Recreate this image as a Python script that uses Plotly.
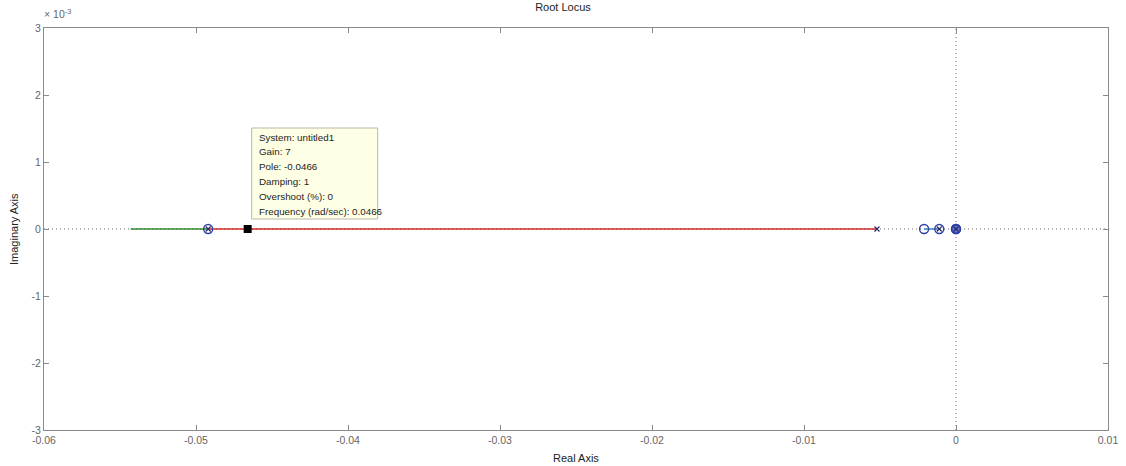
import plotly.graph_objects as go

# Root locus branches (real axis), imaginary parts in units of 1e-3
green_branch_x = [-0.0543, -0.0492]
red_branch_x = [-0.0492, -0.0052]
blue_branch_x = [-0.0021, -0.0011]

# Open-loop zeros and poles
zeros_x = [-0.0492, -0.0021, -0.0011, 0.0]
poles_x = [-0.0492, -0.0052, -0.0011, 0.0]

# Selected closed-loop pole (data tip)
tip_pole = -0.0466
tip_gain = 7
tip_damping = 1
tip_overshoot = 0

x_ticks = [-0.06, -0.05, -0.04, -0.03, -0.02, -0.01, 0.0, 0.01]
x_tick_text = ["-0.06", "-0.05", "-0.04", "-0.03", "-0.02", "-0.01", "0", "0.01"]
y_ticks = [-3, -2, -1, 0, 1, 2, 3]
y_tick_text = ["-3", "-2", "-1", "0", "1", "2", "3"]

X_RANGE = [-0.06, 0.01]
Y_RANGE = [-3, 3]
FONT = "Liberation Sans, Arial, sans-serif"

fig = go.Figure()

# dotted reference axes through the origin
dotted = dict(color="#666666", width=1, dash="1px,3px")
fig.add_trace(go.Scatter(x=X_RANGE, y=[0, 0], mode="lines", line=dotted,
                         hoverinfo="skip", showlegend=False))
fig.add_trace(go.Scatter(x=[0, 0], y=Y_RANGE, mode="lines", line=dotted,
                         hoverinfo="skip", showlegend=False))

# branches
fig.add_trace(go.Scatter(x=green_branch_x, y=[0, 0], mode="lines",
                         line=dict(color="#2e8b2e", width=1.5), showlegend=False))
fig.add_trace(go.Scatter(x=red_branch_x, y=[0, 0], mode="lines",
                         line=dict(color="#d02a2a", width=1.5), showlegend=False))
fig.add_trace(go.Scatter(x=blue_branch_x, y=[0, 0], mode="lines",
                         line=dict(color="#3a8fc0", width=1.6), showlegend=False))

# cluster of poles/zeros at the origin (filled)
fig.add_trace(go.Scatter(x=[0.0], y=[0], mode="markers",
                         marker=dict(symbol="circle", size=9, color="rgba(50,70,190,0.75)",
                                     line=dict(color="#1a2a99", width=1.3)),
                         showlegend=False))
# zeros
fig.add_trace(go.Scatter(x=zeros_x, y=[0] * len(zeros_x), mode="markers",
                         marker=dict(symbol="circle-open", size=9, color="#2c40a8",
                                     line=dict(width=1.4)),
                         showlegend=False))
# poles
fig.add_trace(go.Scatter(x=poles_x, y=[0] * len(poles_x), mode="markers",
                         marker=dict(symbol="x-thin-open", size=5, color="#2a2a60",
                                     line=dict(width=1.2)),
                         showlegend=False))

# data tip marker
fig.add_trace(go.Scatter(x=[tip_pole], y=[0], mode="markers",
                         marker=dict(symbol="square", size=8, color="black"),
                         showlegend=False))

# data tip box, anchored to the selected pole
fig.add_shape(type="rect", xref="x", yref="y", xsizemode="pixel", ysizemode="pixel",
              xanchor=tip_pole, yanchor=0, x0=4, x1=130, y0=10, y1=101,
              fillcolor="#ffffe6", line=dict(color="#b8b8a8", width=1), layer="above")

tip_lines = [
    "System: untitled1",
    f"Gain: {tip_gain}",
    f"Pole: {tip_pole}",
    f"Damping: {tip_damping}",
    f"Overshoot (%): {tip_overshoot}",
    f"Frequency (rad/sec): {abs(tip_pole)}",
]
for i, line in enumerate(tip_lines):
    fig.add_annotation(x=tip_pole, y=0, xref="x", yref="y", xanchor="left", yanchor="middle",
                       xshift=9, yshift=92 - i * 14.8, text=line, showarrow=False,
                       font=dict(family=FONT, size=9.8, color="#222222"))

# exponent label for the imaginary axis
fig.add_annotation(x=0, y=1, xref="paper", yref="paper", xanchor="left", yanchor="bottom",
                   xshift=-2, yshift=6, text="× 10<sup>-3</sup>", showarrow=False,
                   font=dict(family=FONT, size=10.5, color="#666666"))

# axis titles placed explicitly
fig.add_annotation(x=0.5, y=0, xref="paper", yref="paper", xanchor="center", yanchor="top",
                   yshift=-20, text="Real Axis", showarrow=False,
                   font=dict(family=FONT, size=11, color="#222222"))
fig.add_annotation(x=0, y=0.5, xref="paper", yref="paper", xanchor="center", yanchor="middle",
                   xshift=-30, text="Imaginary Axis", textangle=-90, showarrow=False,
                   font=dict(family=FONT, size=11, color="#222222"))

axis_style = dict(showline=True, linecolor="#8a8a8a", linewidth=1, mirror="ticks",
                  ticks="inside", ticklen=5, tickcolor="#8a8a8a", showgrid=False,
                  zeroline=False, automargin=False,
                  tickfont=dict(family=FONT, size=10.5, color="#666666"))

fig.update_layout(
    width=1126, height=466,
    margin=dict(l=44, r=18, t=28, b=36),
    paper_bgcolor="white", plot_bgcolor="white",
    title=dict(text="Root Locus", x=0.5, xanchor="center", y=0.992, yanchor="top",
               font=dict(family=FONT, size=11, color="#222222")),
    xaxis=dict(range=X_RANGE, tickvals=x_ticks, ticktext=x_tick_text, **axis_style),
    yaxis=dict(range=Y_RANGE, tickvals=y_ticks, ticktext=y_tick_text, **axis_style),
)

fig.write_html("out.html")
